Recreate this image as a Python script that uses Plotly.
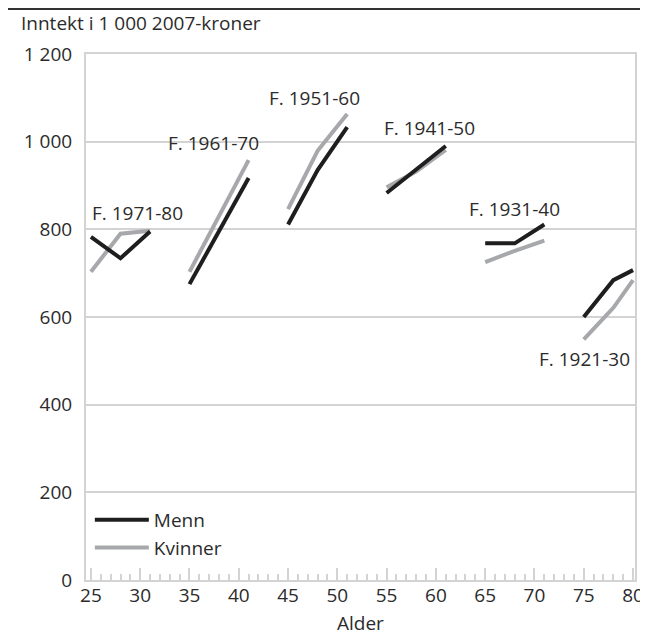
import plotly.graph_objects as go

# Ages observed for each birth cohort
cohorts = ["F. 1971-80", "F. 1961-70", "F. 1951-60", "F. 1941-50", "F. 1931-40", "F. 1921-30"]
ages = [
    [25, 28, 31],
    [35, 38, 41],
    [45, 48, 51],
    [55, 58, 61],
    [65, 68, 71],
    [75, 78, 80],
]
menn = [
    [783, 734, 795],
    [675, 796, 917],
    [811, 935, 1033],
    [883, 936, 990],
    [768, 768, 811],
    [600, 684, 707],
]
kvinner = [
    [703, 790, 797],
    [703, 831, 958],
    [846, 979, 1063],
    [896, 932, 981],
    [725, 751, 774],
    [549, 621, 684],
]
y_ticks = [0, 200, 400, 600, 800, 1000, 1200]
y_tick_labels = ["0", "200", "400", "600", "800", "1 000", "1 200"]
x_ticks = [25, 30, 35, 40, 45, 50, 55, 60, 65, 70, 75, 80]

# label positions (x, y) in data units
label_pos = [(29.7, 838), (37.45, 998), (47.7, 1100), (59.3, 1032), (68.0, 847), (75.05, 505)]

FONT = "Open Sans"
TXT = "#2b2b2b"
GRID = "#d3d3d3"
FS = 19

T, B = 46, 63
PH = 635 - T - B


def joined(groups_x, groups_y):
    xs, ys = [], []
    for gx, gy in zip(groups_x, groups_y):
        xs += list(gx) + [None]
        ys += list(gy) + [None]
    return xs, ys


def paper_y(py):
    return (635 - B - py) / PH


fig = go.Figure()
mx, my = joined(ages, menn)
kx, ky = joined(ages, kvinner)
fig.add_trace(go.Scatter(x=kx, y=ky, mode="lines", name="Kvinner",
                         line=dict(color="#a6a8ab", width=4), connectgaps=False))
fig.add_trace(go.Scatter(x=mx, y=my, mode="lines", name="Menn",
                         line=dict(color="#1e1e1e", width=4), connectgaps=False))

for text, (lx, ly) in zip(cohorts, label_pos):
    fig.add_annotation(x=lx, y=ly, text=text, showarrow=False,
                       xanchor="center", yanchor="middle",
                       font=dict(family=FONT, size=FS, color=TXT))

# x-axis title placed explicitly so it stays inside the page
fig.add_annotation(x=0.5, xref="paper", y=paper_y(615), yref="paper", text="Alder",
                   showarrow=False, xanchor="center", yanchor="middle",
                   font=dict(family=FONT, size=FS, color=TXT))

fig.add_shape(type="line", xref="paper", yref="paper", x0=-0.2, x1=1.1,
              y0=paper_y(1), y1=paper_y(1), line=dict(color="#333333", width=2))

fig.update_layout(
    width=648, height=635,
    margin=dict(l=78, r=14, t=T, b=B),
    paper_bgcolor="white", plot_bgcolor="white",
    font=dict(family=FONT, size=FS, color=TXT),
    title=dict(text="Inntekt i 1 000 2007-kroner", x=13 / 648, xanchor="left",
               xref="container", y=1 - 15 / 635, yanchor="middle", yref="container",
               font=dict(family=FONT, size=FS, color=TXT)),
    showlegend=True,
    legend=dict(x=0.007, y=0.025, xanchor="left", yanchor="bottom",
                bgcolor="rgba(0,0,0,0)", font=dict(family=FONT, size=FS, color=TXT),
                traceorder="reversed", tracegroupgap=0, itemwidth=54),
)
fig.update_xaxes(range=[24.5, 80.2], tickvals=x_ticks, ticks="inside", ticklen=12,
                 tickcolor=GRID, tickwidth=2, showline=True, linecolor=GRID, linewidth=2,
                 mirror=True, showgrid=False, zeroline=False,
                 minor=dict(dtick=1, tick0=25, ticks="inside", ticklen=6, tickcolor=GRID, tickwidth=2),
                 ticklabelstandoff=-3,
                 tickfont=dict(family=FONT, size=FS, color=TXT))
fig.update_yaxes(range=[0, 1200], tickvals=y_ticks, ticktext=y_tick_labels, ticks="",
                 showline=True, linecolor=GRID, linewidth=2, mirror=True,
                 showgrid=True, gridcolor=GRID, gridwidth=2, zeroline=False,
                 ticklabelstandoff=8, tickfont=dict(family=FONT, size=FS, color=TXT))

fig.write_html("out.html")
